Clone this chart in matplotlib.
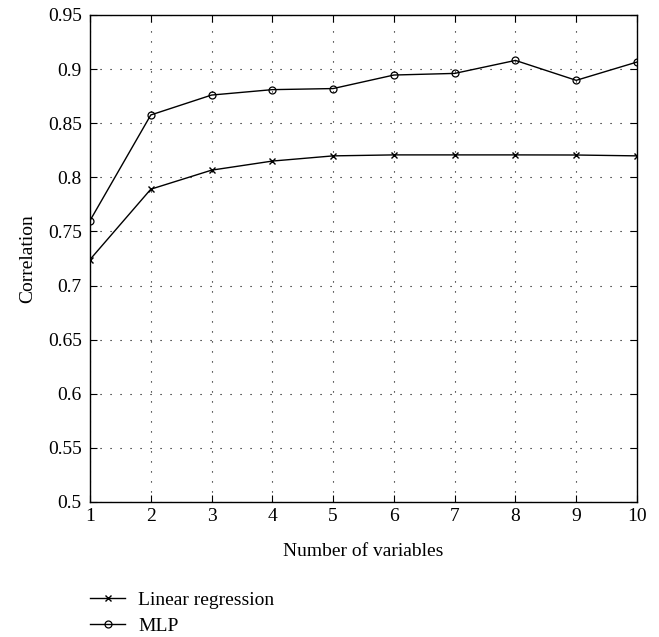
import matplotlib
matplotlib.use("Agg")
import matplotlib.pyplot as plt

# data
n_vars = [1, 2, 3, 4, 5, 6, 7, 8, 9, 10]
linear_reg = [0.724, 0.789, 0.8066, 0.815, 0.8198, 0.8207, 0.8207, 0.8207, 0.8206, 0.8198]
mlp = [0.760, 0.8576, 0.876, 0.881, 0.882, 0.8945, 0.896, 0.908, 0.8896, 0.9065]
yticks = [0.5, 0.55, 0.6, 0.65, 0.7, 0.75, 0.8, 0.85, 0.9, 0.95]
ytick_labels = ["0.5", "0.55", "0.6", "0.65", "0.7", "0.75", "0.8", "0.85", "0.9", "0.95"]

plt.rcParams['font.family'] = ['Liberation Serif', 'DejaVu Serif']
plt.rcParams['font.size'] = 14

fig = plt.figure(figsize=(6.59, 6.37), dpi=100)
ax = fig.add_axes([0.1366, 0.212, 0.830, 0.7645])

ax.plot(n_vars, linear_reg, color='black', lw=1.0, marker='x', ms=4, mew=1.0,
        label="Linear regression")
ax.plot(n_vars, mlp, color='black', lw=1.0, marker='o', ms=5, mfc='none', mew=0.9,
        label="MLP")

ax.set_xlim(1, 10)
ax.set_ylim(0.5, 0.95)
ax.set_xticks(n_vars)
ax.set_yticks(yticks)
ax.set_yticklabels(ytick_labels)
# sparse dotted grid like the original
ax.grid(True, color='black', linestyle=(0, (1, 8)), linewidth=0.8)
ax.tick_params(direction='in', top=True, right=True, length=5, width=0.8)
ax.tick_params(axis='x', pad=4)
ax.tick_params(axis='y', pad=6)
for s in ax.spines.values():
    s.set_linewidth(1.0)

ax.set_xlabel('Number of variables')
ax.set_ylabel('Correlation')
ax.xaxis.set_label_coords(0.5, -0.085)
ax.yaxis.set_label_coords(-0.098, 0.5)

fig.legend(loc='upper left', bbox_to_anchor=(0.1366, 0.072), frameon=False,
           handlelength=1.8, handletextpad=0.67, labelspacing=0.42,
           borderaxespad=0, borderpad=0, fontsize=14)

fig.savefig("out.png", dpi=100)
